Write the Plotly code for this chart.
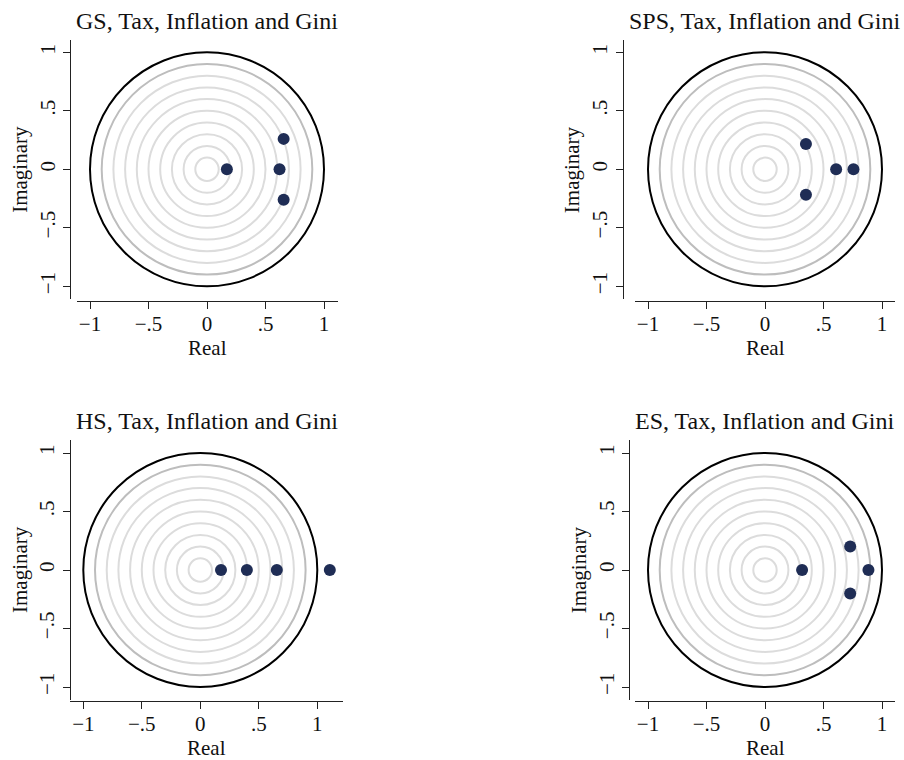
import plotly.graph_objects as go

W, H = 904, 760

titles = ["GS, Tax, Inflation and Gini", "SPS, Tax, Inflation and Gini",
          "HS, Tax, Inflation and Gini", "ES, Tax, Inflation and Gini"]

gs_real = [0.17, 0.62, 0.655, 0.655]
gs_imag = [0.0, 0.0, 0.26, -0.26]
sps_real = [0.35, 0.35, 0.608, 0.756]
sps_imag = [0.217, -0.217, 0.0, 0.0]
hs_real = [0.177, 0.398, 0.654, 1.107]
hs_imag = [0.0, 0.0, 0.0, 0.0]
es_real = [0.317, 0.728, 0.728, 0.884]
es_imag = [0.0, 0.2, -0.2, 0.0]

reals = [gs_real, sps_real, hs_real, es_real]
imags = [gs_imag, sps_imag, hs_imag, es_imag]

grid_radii = [0.1, 0.2, 0.3, 0.4, 0.5, 0.6, 0.7, 0.8]
outer_grid_radius = 0.9
unit_radius = 1.0

tick_vals = [-1, -0.5, 0, 0.5, 1]
tick_text = ["\u22121", "\u2212.5", "0", ".5", "1"]

# layout in pixels: x-domain, y-domain, origin pixel, y-axis line x, x-axis line y
panels = [
    dict(xd=(76.7, 337.7), yd=(40, 299), cx=207.0, cy=169.3, yax=70.3, xax=300.5),
    dict(xd=(635, 895), yd=(40, 299), cx=765.0, cy=169.3, yax=622.7, xax=300.5),
    dict(xd=(70, 343.3), yd=(440, 700), cx=200.3, cy=570.0, yax=70.0, xax=700.5),
    dict(xd=(635, 895), yd=(440, 700), cx=765.0, cy=570.0, yax=629.3, xax=700.5),
]
U = 117.0

FONT = "Liberation Serif"
NAVY = "#1f2d55"

fig = go.Figure()
shapes = []
annotations = []

for i, p in enumerate(panels):
    n = "" if i == 0 else str(i + 1)
    xa, ya = "x" + n, "y" + n
    xr = [(p["xd"][0] - p["cx"]) / U, (p["xd"][1] - p["cx"]) / U]
    yr = [(p["cy"] - p["yd"][1]) / U, (p["cy"] - p["yd"][0]) / U]
    xdom = [p["xd"][0] / W, p["xd"][1] / W]
    ydom = [1 - p["yd"][1] / H, 1 - p["yd"][0] / H]
    axcommon = dict(showgrid=False, zeroline=False, showline=True, linecolor="#222",
                    linewidth=1.3, ticks="outside", ticklen=7, tickwidth=1.3,
                    tickcolor="#222", tickvals=tick_vals, ticktext=tick_text,
                    tickfont=dict(family=FONT, size=21, color="#111"),
                    fixedrange=True, anchor="free")
    fig.layout["xaxis" + n] = dict(axcommon, domain=xdom, range=xr,
                                   position=1 - p["xax"] / H, ticklabelstandoff=-3)
    fig.layout["yaxis" + n] = dict(axcommon, domain=ydom, range=yr,
                                   position=p["yax"] / W, tickangle=-90)

    for r in grid_radii + [outer_grid_radius, unit_radius]:
        col = "#dcdcdc" if r in grid_radii else ("#bdbdbd" if r == outer_grid_radius else "#000000")
        shapes.append(dict(type="circle", xref=xa, yref=ya, x0=-r, x1=r, y0=-r, y1=r,
                           line=dict(color=col, width=2), layer="below"))

    fig.add_trace(go.Scatter(x=reals[i], y=imags[i], mode="markers", xaxis=xa, yaxis=ya,
                             marker=dict(size=12, color=NAVY), showlegend=False,
                             cliponaxis=False))

    cxp = (p["xd"][0] + p["xd"][1]) / 2
    cyp = (p["yd"][0] + p["yd"][1]) / 2
    annotations.append(dict(text=titles[i], xref="paper", yref="paper",
                            x=cxp / W, y=1 - (p["yd"][0] - 19) / H,
                            xanchor="center", yanchor="middle", showarrow=False,
                            font=dict(family=FONT, size=24, color="#111")))
    annotations.append(dict(text="Real", xref="paper", yref="paper",
                            x=cxp / W, y=1 - (p["xax"] + 47) / H,
                            xanchor="center", yanchor="middle", showarrow=False,
                            font=dict(family=FONT, size=21, color="#111")))
    annotations.append(dict(text="Imaginary", xref="paper", yref="paper",
                            x=(p["yax"] - 50) / W, y=1 - cyp / H, textangle=-90,
                            xanchor="center", yanchor="middle", showarrow=False,
                            font=dict(family=FONT, size=21, color="#111")))

fig.update_layout(width=W, height=H, margin=dict(l=0, r=0, t=0, b=0),
                  paper_bgcolor="white", plot_bgcolor="white",
                  shapes=shapes, annotations=annotations, showlegend=False)

fig.write_html("out.html")
